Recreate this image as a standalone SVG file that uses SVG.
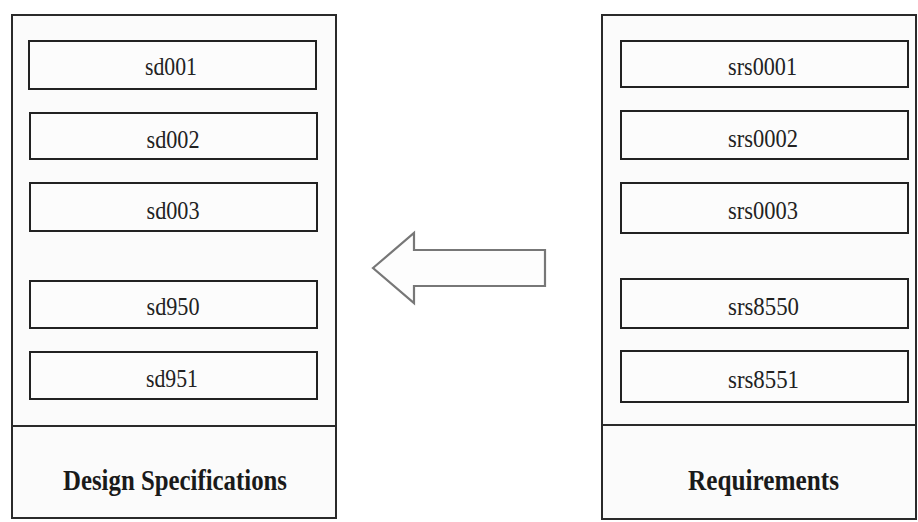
<svg xmlns="http://www.w3.org/2000/svg" width="918" height="522" viewBox="0 0 918 522">
<style>
.outer{fill:#fbfbfb;stroke:#2a2a2a;stroke-width:2}
.item{fill:#fcfcfc;stroke:#222;stroke-width:2}
.lbl{font-family:"Liberation Serif","DejaVu Serif",serif;font-size:25px;fill:#222;text-anchor:middle}
.title{font-family:"Liberation Serif","DejaVu Serif",serif;font-size:30px;font-weight:bold;fill:#1a1a1a;text-anchor:middle}
.arrow{fill:#fdfdfd;stroke:#777;stroke-width:2.2;stroke-linejoin:miter}
</style>
<rect width="918" height="522" fill="#ffffff"/>
<g id="design-specifications">
<rect class="outer" x="12" y="15" width="324" height="503"/>
<line x1="12" y1="426" x2="336" y2="426" stroke="#2a2a2a" stroke-width="2"/>
<text class="title" x="175" y="490" textLength="224" lengthAdjust="spacingAndGlyphs">Design Specifications</text>
</g>
<g id="sd001"><rect class="item" x="29" y="41" width="287" height="48"/><text class="lbl" x="171" y="75" textLength="52" lengthAdjust="spacingAndGlyphs">sd001</text></g>
<g id="sd002"><rect class="item" x="30" y="113" width="287" height="46"/><text class="lbl" x="173" y="148" textLength="53" lengthAdjust="spacingAndGlyphs">sd002</text></g>
<g id="sd003"><rect class="item" x="30" y="183" width="287" height="48"/><text class="lbl" x="173" y="219" textLength="53" lengthAdjust="spacingAndGlyphs">sd003</text></g>
<g id="sd950"><rect class="item" x="30" y="281" width="287" height="47"/><text class="lbl" x="173" y="315" textLength="53" lengthAdjust="spacingAndGlyphs">sd950</text></g>
<g id="sd951"><rect class="item" x="30" y="352" width="287" height="47"/><text class="lbl" x="172" y="387" textLength="52" lengthAdjust="spacingAndGlyphs">sd951</text></g>
<g id="requirements">
<rect class="outer" x="602" y="15" width="314" height="504"/>
<line x1="602" y1="425" x2="916" y2="425" stroke="#2a2a2a" stroke-width="2"/>
<text class="title" x="763.5" y="490" textLength="151" lengthAdjust="spacingAndGlyphs">Requirements</text>
</g>
<g id="srs0001"><rect class="item" x="621" y="41" width="287" height="46"/><text class="lbl" x="762.5" y="75" textLength="69" lengthAdjust="spacingAndGlyphs">srs0001</text></g>
<g id="srs0002"><rect class="item" x="621" y="111" width="287" height="48"/><text class="lbl" x="763" y="147" textLength="70" lengthAdjust="spacingAndGlyphs">srs0002</text></g>
<g id="srs0003"><rect class="item" x="621" y="183" width="287" height="50"/><text class="lbl" x="763" y="219" textLength="70" lengthAdjust="spacingAndGlyphs">srs0003</text></g>
<g id="srs8550"><rect class="item" x="621" y="279" width="287" height="49"/><text class="lbl" x="763.5" y="315" textLength="71" lengthAdjust="spacingAndGlyphs">srs8550</text></g>
<g id="srs8551"><rect class="item" x="621" y="351" width="287" height="51"/><text class="lbl" x="763.5" y="388" textLength="71" lengthAdjust="spacingAndGlyphs">srs8551</text></g>
<g id="connectors">
<polygon class="arrow" points="373,268 414,233 414,250 545,250 545,286 414,286 414,303"/>
</g>
</svg>
